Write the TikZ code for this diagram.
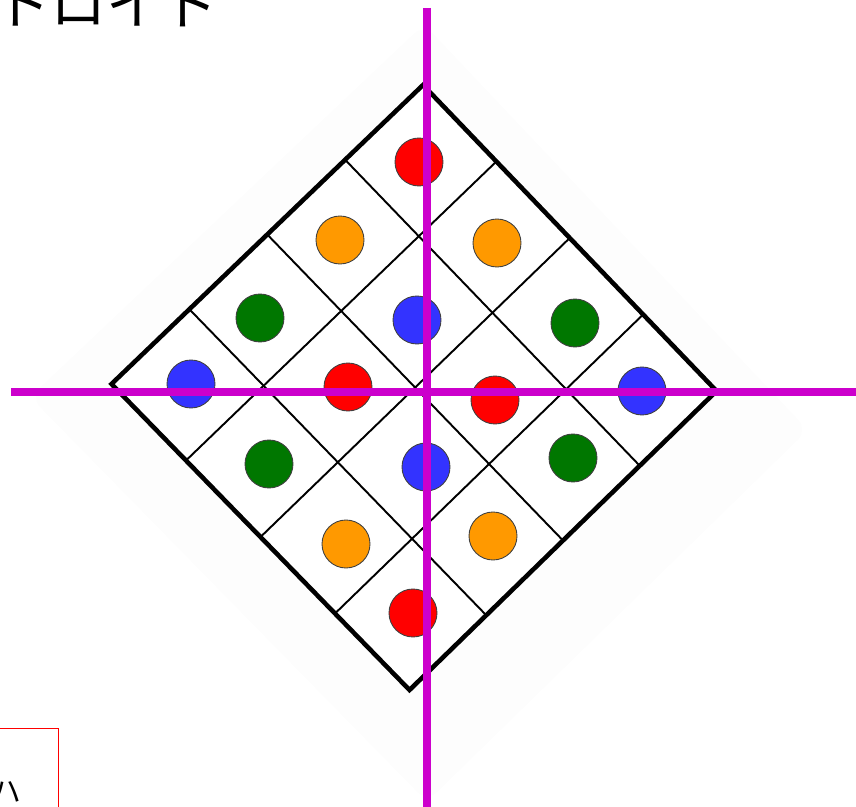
\documentclass[tikz,border=0pt]{standalone}
\usepackage{fontspec}
\newfontfamily\jpfont{Noto Sans CJK JP}
\definecolor{dotred}{RGB}{255, 0, 0}
\definecolor{dotorange}{RGB}{255, 153, 0}
\definecolor{dotgreen}{RGB}{0, 119, 0}
\definecolor{dotblue}{RGB}{51, 51, 255}
\definecolor{axismagenta}{RGB}{204, 0, 204}
\usetikzlibrary{calc}

\begin{document}
\begin{tikzpicture}[
  x=0.02cm, y=-0.02cm,
  dot/.style={circle, draw=black!75, line width=0.5pt, minimum size=0.96cm, inner sep=0pt},
  gridline/.style={line width=1.1pt},
  rimline/.style={line width=2.6pt, line join=miter},
  axisline/.style={draw=axismagenta, line width=4.2pt}
]
  \useasboundingbox (0,0) rectangle (856,807);
  \clip (0,0) rectangle (856,807);

  % faint backdrop behind the board
  \fill[black!0.8, rounded corners=8pt] (424,24) -- (808,430) -- (427,802) -- (30,397) -- cycle;

  \coordinate (T) at (423,85);
  \coordinate (R) at (716.5,391);
  \coordinate (B) at (409.5,690);
  \coordinate (L) at (111.5,384);

  \fill[white] (T) -- (R) -- (B) -- (L) -- cycle;
  \foreach \k in {1,2,3} {
    \draw[gridline] ($(T)!\k/4!(L)$) -- ($(R)!\k/4!(B)$);
    \draw[gridline] ($(T)!\k/4!(R)$) -- ($(L)!\k/4!(B)$);
  }
  \draw[rimline] (T) -- (R) -- (B) -- (L) -- cycle;

  \node[dot, fill=dotred] (r1) at (419,162) {};
  \node[dot, fill=dotorange] (o1) at (340,240) {};
  \node[dot, fill=dotorange] (o2) at (497,243) {};
  \node[dot, fill=dotgreen] (g1) at (260,318) {};
  \node[dot, fill=dotblue] (b1) at (417,320) {};
  \node[dot, fill=dotgreen] (g2) at (575,323) {};
  \node[dot, fill=dotblue] (b2) at (191,384) {};
  \node[dot, fill=dotred] (r2) at (348,387) {};
  \node[dot, fill=dotred] (r3) at (495,400) {};
  \node[dot, fill=dotblue] (b3) at (642,391) {};
  \node[dot, fill=dotgreen] (g3) at (269,464) {};
  \node[dot, fill=dotblue] (b4) at (426,467) {};
  \node[dot, fill=dotgreen] (g4) at (573,458) {};
  \node[dot, fill=dotorange] (o3) at (346,544) {};
  \node[dot, fill=dotorange] (o4) at (493,536) {};
  \node[dot, fill=dotred] (r4) at (413,613) {};

  % axes
  \coordinate (vtop) at (427,8);
  \coordinate (vbot) at (427,830);
  \coordinate (hleft) at (11,392);
  \coordinate (hright) at (880,392);
  \draw[axisline] (vtop) -- (vbot);
  \draw[axisline] (hleft) -- (hright);

  \node[anchor=base west, inner sep=0pt, font=\jpfont\fontsize{32}{38}\selectfont] (title) at (-6,25) {トロイド};

  \draw[dotred, line width=0.9pt] (-20,728.5) rectangle (58.5,840);
  \node[anchor=base west, inner sep=0pt, font=\jpfont\fontsize{17}{20}\selectfont] (note) at (-9,802) {ハ};
\end{tikzpicture}
\end{document}
